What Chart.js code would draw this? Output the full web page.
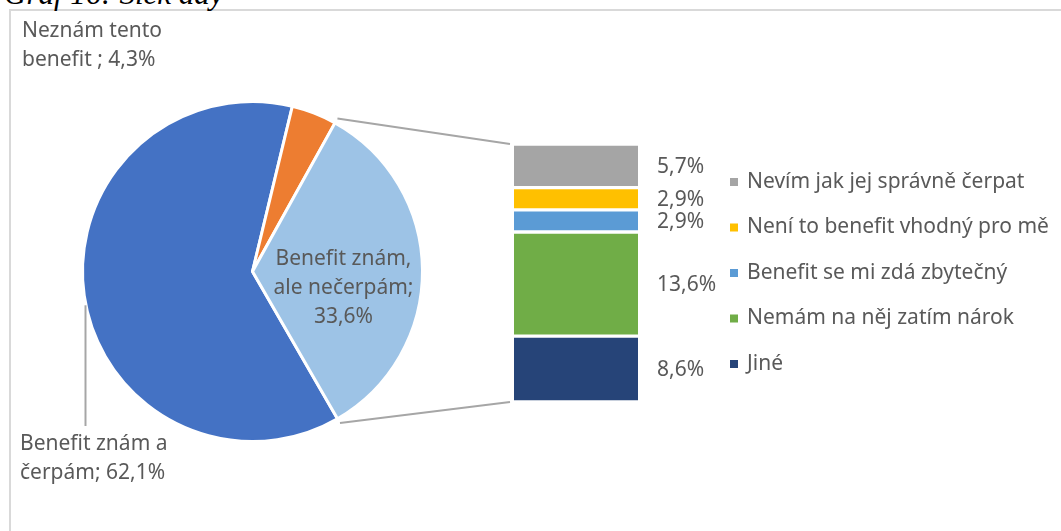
<!DOCTYPE html>
<html>
<head>
<meta charset="utf-8">
<script src="https://cdn.jsdelivr.net/npm/chart.js@4/dist/chart.umd.min.js"></script>
<style>
  body { margin: 0; background: #fff; width: 1061px; height: 531px; overflow: hidden; position: relative; }
  #frame { position: absolute; left: 9px; top: 9px; width: 1100px; height: 600px; border: 2px solid #d9d9d9; }
  #title { position: absolute; left: 4px; top: -24px; font: italic 31px "Liberation Serif", serif; color: #000; white-space: nowrap; }
  canvas { position: absolute; left: 0; top: 0; }
</style>
</head>
<body>
<div id="frame"></div>
<div id="title">Graf 16: Sick day</div>
<canvas id="pieChart" width="1061" height="531"></canvas>
<canvas id="barChart" width="1061" height="531"></canvas>
<script>
// main pie
const pieLabels = ['Benefit znám a\nčerpám', 'Neznám tento\nbenefit ', 'Benefit znám,\nale nečerpám'];
const pieValues = [62.1, 4.3, 33.6];
const pieColors = ['#4472C4', '#ED7D31', '#9DC3E6'];

// breakdown of "ale nečerpám" (bottom to top in the bar)
const barLabels = ['Jiné', 'Nemám na něj zatím nárok', 'Benefit se mi zdá zbytečný', 'Není to benefit vhodný pro mě', 'Nevím jak jej správně čerpat'];
const barValues = [8.6, 13.6, 2.9, 2.9, 5.7];
const barColors = ['#264478', '#70AD47', '#5B9BD5', '#FFC000', '#A5A5A5'];

const textColor = '#595959';
const lineColor = '#a6a6a6';
const font = '21px "Noto Sans"';
const lineH = 29;

function pct(v) {
  return v.toFixed(1).replace('.', ',') + '%';
}

function drawLines(ctx, lines, x, y) {
  lines.forEach((l, i) => ctx.fillText(l, x, y + i * lineH));
}

const pieExtras = {
  id: 'pieExtras',
  afterDatasetsDraw(chart) {
    const ctx = chart.ctx;
    const arcs = chart.getDatasetMeta(0).data;
    ctx.save();
    ctx.font = font;
    ctx.fillStyle = textColor;
    ctx.textBaseline = 'middle';

    // 62,1% - outside, bottom left with leader line
    const a0 = arcs[0];
    const r = a0.outerRadius;
    const lx = a0.x - r + 3;
    ctx.strokeStyle = lineColor;
    ctx.lineWidth = 2;
    ctx.beginPath();
    ctx.moveTo(lx, a0.y + Math.sqrt(r * r - (r - 3) * (r - 3)) + 2);
    ctx.lineTo(lx, 426);
    ctx.stroke();
    ctx.textAlign = 'left';
    drawLines(ctx, (pieLabels[0] + '; ' + pct(pieValues[0])).split('\n'), 20, 444);

    // 4,3% - outside, top left
    drawLines(ctx, (pieLabels[1] + '; ' + pct(pieValues[1])).split('\n'), 22, 31);

    // 33,6% - inside the slice
    const a2 = arcs[2];
    const p = a2.tooltipPosition();
    ctx.textAlign = 'center';
    const lines = (pieLabels[2] + ';\n' + pct(pieValues[2])).split('\n');
    drawLines(ctx, lines, p.x + 6, p.y + 17 - (lines.length - 1) * lineH / 2);
    ctx.restore();
  }
};

const pieChart = new Chart(document.getElementById('pieChart'), {
  type: 'pie',
  data: {
    labels: pieLabels,
    datasets: [{
      data: pieValues,
      backgroundColor: pieColors,
      borderColor: '#fff',
      borderWidth: 3
    }]
  },
  options: {
    responsive: false,
    animation: false,
    rotation: 150,
    layout: { padding: { left: 81, right: 637, top: 100, bottom: 88 } },
    plugins: { legend: { display: false }, tooltip: { enabled: false } }
  },
  plugins: [pieExtras]
});

const barTotal = barValues.reduce((s, v) => s + v, 0);

const barExtras = {
  id: 'barExtras',
  afterDatasetsDraw(chart) {
    const ctx = chart.ctx;
    const area = chart.chartArea;
    ctx.save();

    // connector lines from the split slice to the bar
    const arc = pieChart.getDatasetMeta(0).data[2];
    const rr = arc.outerRadius + 5;
    ctx.strokeStyle = lineColor;
    ctx.lineWidth = 2;
    ctx.beginPath();
    ctx.moveTo(arc.x + rr * Math.cos(arc.startAngle), arc.y + rr * Math.sin(arc.startAngle));
    ctx.lineTo(area.left - 4, area.top);
    ctx.moveTo(arc.x + rr * Math.cos(arc.endAngle), arc.y + rr * Math.sin(arc.endAngle));
    ctx.lineTo(area.left - 4, area.bottom);
    ctx.stroke();

    // value labels
    ctx.font = font;
    ctx.fillStyle = textColor;
    ctx.textBaseline = 'middle';
    ctx.textAlign = 'left';
    chart.data.datasets.forEach((ds, i) => {
      const el = chart.getDatasetMeta(i).data[0];
      ctx.fillText(pct(barValues[i]), area.right + 19, (el.y + el.base) / 2 + 1);
    });

    // legend, top to bottom
    for (let k = 0; k < barLabels.length; k++) {
      const i = barLabels.length - 1 - k;
      const y = 182 + k * 45.5;
      ctx.fillStyle = barColors[i];
      ctx.fillRect(area.right + 92, y - 4, 8, 8);
      ctx.fillStyle = textColor;
      ctx.fillText(barLabels[i], area.right + 109, y);
    }
    ctx.restore();
  }
};

new Chart(document.getElementById('barChart'), {
  type: 'bar',
  data: {
    labels: [''],
    datasets: barLabels.map((l, i) => ({
      label: l,
      data: [barValues[i]],
      backgroundColor: barColors[i],
      borderColor: '#fff',
      borderWidth: { top: 2, bottom: 2, left: 0, right: 0 },
      borderSkipped: false,
      barPercentage: 1,
      categoryPercentage: 1
    }))
  },
  options: {
    responsive: false,
    animation: false,
    layout: { padding: { left: 514, right: 423, top: 144, bottom: 129 } },
    scales: {
      x: { stacked: true, display: false },
      y: { stacked: true, display: false, min: 0, max: barTotal }
    },
    plugins: { legend: { display: false }, tooltip: { enabled: false } }
  },
  plugins: [barExtras]
});
</script>
</body>
</html>
